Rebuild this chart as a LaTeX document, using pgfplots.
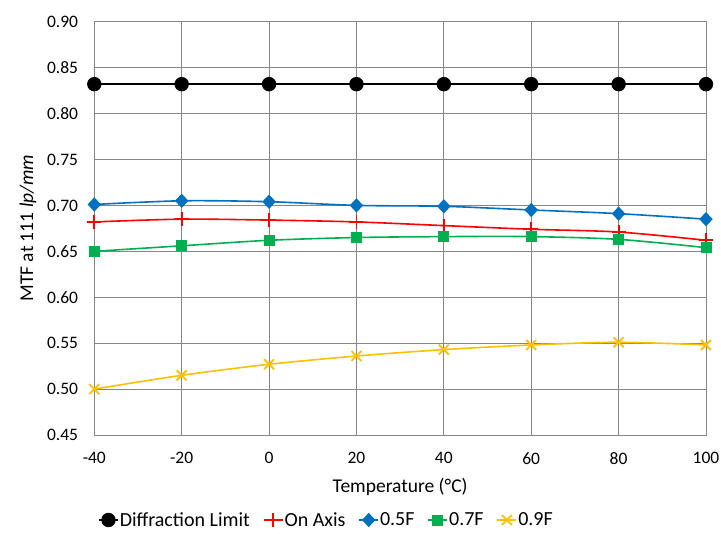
\documentclass[border=0pt]{standalone}
\usepackage{pgfplots}
\pgfplotsset{compat=1.18}
\usepackage{fontspec}
\setmainfont{Carlito}
\definecolor{cblue}{HTML}{0070C0}
\definecolor{cgreen}{HTML}{00B050}
\definecolor{cyellow}{HTML}{FFC000}
\definecolor{cred}{HTML}{FF0000}
\definecolor{cgrid}{HTML}{868686}
\begin{document}
\begin{tikzpicture}
\begin{axis}[name=ax, scale only axis, width=611.7pt, height=413.3pt,
  xmin=-40, xmax=100, ymin=0.45, ymax=0.90,
  xtick={-40,-20,0,20,40,60,80,100},
  ytick={0.45,0.50,0.55,0.60,0.65,0.70,0.75,0.80,0.85,0.90},
  grid=major, grid style={cgrid, line width=0.9pt},
  axis line style={cgrid, line width=0.9pt},
  tick style={draw=none},
  /pgf/number format/assume math mode=true,
  tick label style={font=\fontsize{17.5}{20}\selectfont},
  yticklabel style={/pgf/number format/.cd, fixed, fixed zerofill, precision=2, /tikz/.cd, anchor=east, inner sep=0pt, xshift=-16pt},
  xticklabel style={anchor=north, inner sep=0pt, yshift=-17pt},
  xlabel={Temperature (°C)},
  ylabel={MTF at 111 \textit{lp/mm}},
  label style={font=\fontsize{19.5}{22}\selectfont},
  x label style={at={(axis description cs:0.5,0)}, anchor=base, yshift=-57pt},
  y label style={at={(axis description cs:-0.1002,0.5)}, anchor=base, rotate=0},
  legend columns=-1,
  legend style={draw=none, fill=none, at={(axis description cs:0.006,0)}, anchor=west, yshift=-85pt,
    font=\fontsize{20}{23}\selectfont, inner sep=0pt,
    /tikz/every even column/.append style={column sep=12pt},
    nodes={inner xsep=1pt}},
  legend image code/.code={\draw[mark repeat=2,mark phase=2] plot coordinates {(0pt,0pt) (9.5pt,0pt) (19pt,0pt)};},
  every axis plot/.append style={line width=1.6pt, smooth},
  clip=false,
]
\addplot[black, mark=*, mark size=6.4pt, mark options={solid}] coordinates {
(-40,0.832) (-20,0.832) (0,0.832) (20,0.832) (40,0.832) (60,0.832) (80,0.832) (100,0.832)};
\addlegendentry{Diffraction Limit}
\addplot[cred, mark=+, mark size=7pt, mark options={line width=1.8pt}] coordinates {
(-40,0.682) (-20,0.685) (0,0.684) (20,0.682) (40,0.678) (60,0.674) (80,0.671) (100,0.662)};
\addlegendentry{On Axis}
\addplot[cblue, mark=diamond*, mark size=6.4pt, mark options={xscale=1.25, line width=1pt}] coordinates {
(-40,0.701) (-20,0.705) (0,0.704) (20,0.700) (40,0.699) (60,0.695) (80,0.691) (100,0.685)};
\addlegendentry{0.5F}
\addplot[cgreen, mark=square*, mark size=5pt, mark options={line width=1pt}] coordinates {
(-40,0.650) (-20,0.656) (0,0.662) (20,0.665) (40,0.666) (60,0.666) (80,0.663) (100,0.654)};
\addlegendentry{0.7F}
\addplot[cyellow, mark=x, mark size=7pt, mark options={line width=1.8pt}] coordinates {
(-40,0.500) (-20,0.515) (0,0.527) (20,0.536) (40,0.543) (60,0.548) (80,0.551) (100,0.548)};
\addlegendentry{0.9F}
\end{axis}
\pgfresetboundingbox
\path ([shift={(-94.3pt,-104pt)}]ax.south west) rectangle ([shift={(15pt,21.7pt)}]ax.north east);
\end{tikzpicture}
\end{document}
